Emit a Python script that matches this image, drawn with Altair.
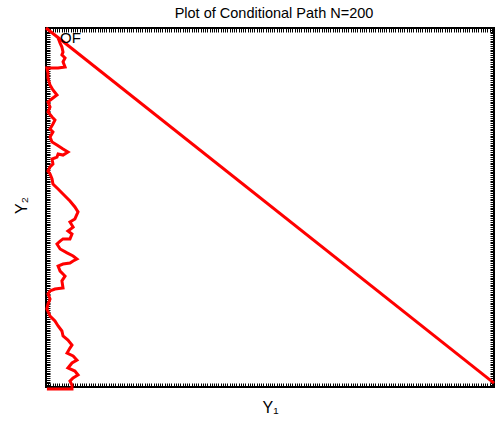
import altair as alt
import pandas as pd

# Conditional path (Y1, Y2), bottom to top
path_y1 = [0.4, 11.6, 11.6, 10.7, 12.1, 14.3, 12.9, 9.8, 11.6, 13.8, 12.1, 9.4, 10.7, 11.6, 9.8,
           7.6, 7.1, 5.4, 4.0, 1.8, 0.4, 0.9, 1.8, 0.9, 1.8, 4.0, 7.6, 7.1, 8.5, 6.3, 5.4, 7.6,
           10.7, 12.1, 13.8, 12.1, 9.4, 6.3, 4.9, 6.3, 7.6, 10.7, 11.6, 9.8, 12.1, 10.7, 12.9,
           14.3, 12.9, 10.7, 7.6, 5.4, 3.1, 2.7, 1.8, 0.9, 1.8, 3.1, 2.7, 4.9, 5.4, 7.6, 9.8,
           7.6, 4.9, 2.7, 1.8, 3.1, 1.8, 3.1, 4.0, 2.7, 0.9, 1.8, 0.9, 3.1, 4.9, 3.1, 1.8, 0.9,
           0.9, 0.4, 5.4, 8.5, 7.6, 8.5, 7.1, 7.6, 7.1, 6.3, 5.4]
path_y2 = [-1.1, -1.1, 1.1, 3.3, 5.0, 6.7, 8.9, 10.6, 13.4, 15.0, 17.3, 18.9, 21.7, 23.4, 26.2,
           28.4, 31.2, 34.0, 36.8, 39.5, 43.5, 46.2, 49.0, 51.8, 53.5, 54.6, 55.2, 59.1, 61.8,
           64.6, 67.4, 68.5, 69.1, 70.2, 71.3, 73.0, 74.7, 76.9, 79.7, 81.3, 82.5, 82.5, 85.2,
           86.9, 89.1, 91.9, 93.6, 97.5, 100.3, 103.6, 107.5, 110.3, 113.1, 115.9, 118.7, 120.3,
           122.6, 124.2, 127.0, 128.1, 129.8, 129.2, 130.9, 132.6, 134.8, 136.5, 139.3, 142.1,
           143.7, 146.5, 148.7, 150.4, 153.2, 156.0, 158.8, 161.0, 162.7, 165.5, 168.2, 172.1,
           174.9, 177.7, 177.7, 178.3, 181.1, 183.3, 185.0, 186.6, 189.4, 191.6, 194.4]

# Diagonal boundary line
diag_y1 = [0.0, 200.0]
diag_y2 = [200.0, 2.2]

# Marker labels
label_text = ["OF"]
label_y1 = [10.9]
label_y2 = [194.4]

x_ticks = list(range(0, 201))
y_ticks = list(range(0, 201))

path_df = pd.DataFrame({"y1": path_y1, "y2": path_y2, "i": range(len(path_y1))})
diag_df = pd.DataFrame({"y1": diag_y1, "y2": diag_y2, "i": range(len(diag_y1))})
lab_df = pd.DataFrame({"y1": label_y1, "y2": label_y2, "t": label_text})

FONT = "Liberation Sans"
xs = alt.Scale(domain=[0, 200], nice=False, zero=False)
ys = alt.Scale(domain=[0, 200], nice=False, zero=False)

tick_common = dict(values=x_ticks, labels=False, domain=False, tickSize=4, offset=-4,
                   tickColor="black", tickWidth=1, grid=False)
ytick_common = dict(values=y_ticks, labels=False, domain=False, tickSize=4, offset=-4,
                    tickColor="black", tickWidth=1, grid=False)

path = alt.Chart(path_df).mark_line(color="#ff0000", strokeWidth=3).encode(
    x=alt.X("y1:Q", scale=xs, axis=alt.Axis(orient="bottom", title="Y₁", titleFont=FONT,
            titleFontSize=16, titleFontWeight="normal", titleColor="black",
            titleBaseline="alphabetic", titleY=29, **tick_common)),
    y=alt.Y("y2:Q", scale=ys, axis=alt.Axis(orient="left", title="Y₂", titleFont=FONT,
            titleFontSize=16, titleFontWeight="normal", titleColor="black",
            titleBaseline="alphabetic", titleX=-24, titleY=177, **ytick_common)),
    order="i:Q",
)

diag = alt.Chart(diag_df).mark_line(color="#ff0000", strokeWidth=3).encode(
    x=alt.X("y1:Q", scale=xs, axis=alt.Axis(orient="top", title=None, **tick_common)),
    y=alt.Y("y2:Q", scale=ys, axis=alt.Axis(orient="right", title=None, **ytick_common)),
    order="i:Q",
)

labels = alt.Chart(lab_df).mark_text(font=FONT, fontSize=15, color="black",
                                     align="center", baseline="middle").encode(
    x=alt.X("y1:Q", scale=xs, axis=None),
    y=alt.Y("y2:Q", scale=ys, axis=None),
    text="t:N",
)

chart = alt.layer(path, diag, labels).resolve_axis(x="independent", y="independent").properties(
    width=448, height=359,
    autosize=alt.AutoSizeParams(type="none"),
    padding={"left": 46, "top": 28, "right": 2, "bottom": 38},
    title=alt.TitleParams("Plot of Conditional Path N=200", font=FONT, fontSize=14.5,
                          fontWeight="normal", color="black", anchor="middle", offset=1,
                          dx=4),
    background="white",
).configure_view(stroke="black", strokeWidth=2)

chart.save("out.html", embed_options={"renderer": "svg", "actions": False})
